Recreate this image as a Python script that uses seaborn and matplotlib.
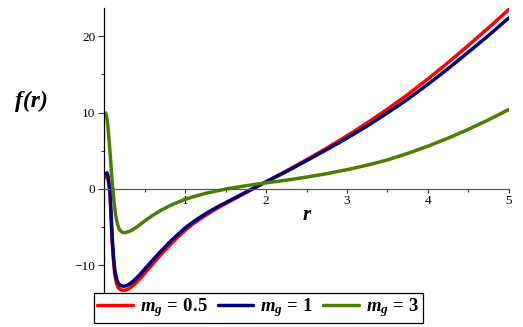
import matplotlib
matplotlib.use("Agg")
import matplotlib.pyplot as plt
import matplotlib.ticker as ticker
import seaborn as sns

# Data
r_red = [0.01, 0.035, 0.05, 0.07, 0.085, 0.1, 0.115, 0.13, 0.15, 0.17, 0.2, 0.24,
         0.28, 0.32, 0.36, 0.4, 0.45, 0.5, 0.6, 0.7, 0.8, 0.9, 1.0, 1.1, 1.2, 1.3,
         1.4, 1.5, 1.6, 1.8, 2.0, 2.25, 2.5, 2.75, 3.0, 3.25, 3.5, 3.75, 4.0, 4.25,
         4.5, 4.75, 5.0]
f_red = [1.5, 1.6, 1.0, -0.6, -4.0, -7.3, -9.6, -11.2, -12.3, -12.9, -13.2, -13.3,
         -13.2, -12.95, -12.6, -12.2, -11.65, -11.05, -9.8, -8.6, -7.45, -6.4, -5.4, -4.55, -3.82, -3.14,
         -2.5, -1.92, -1.35, -0.2, 0.95, 2.35, 3.82, 5.35, 6.95, 8.65, 10.45, 12.35, 14.4, 16.55,
         18.8, 21.1, 23.5]

r_navy = r_red
f_navy = [1.95, 2.1, 1.5, -0.1, -3.5, -6.8, -9.0, -10.6, -11.7, -12.3, -12.65, -12.75,
          -12.65, -12.4, -12.05, -11.65, -11.1, -10.5, -9.3, -8.15, -7.05, -6.05, -5.1, -4.3, -3.6, -2.95,
          -2.35, -1.8, -1.25, -0.15, 0.92, 2.27, 3.7, 5.15, 6.65, 8.25, 9.95, 11.75, 13.7, 15.75,
          17.9, 20.1, 22.4]

r_green = [0.005, 0.015, 0.025, 0.035, 0.045, 0.06, 0.075, 0.09, 0.105, 0.12, 0.14, 0.16,
           0.18, 0.2, 0.23, 0.26, 0.3, 0.35, 0.4, 0.5, 0.6, 0.7, 0.8, 0.9, 1.0, 1.1,
           1.25, 1.5, 1.75, 2.0, 2.25, 2.5, 2.75, 3.0, 3.25, 3.5, 3.75, 4.0, 4.25, 4.5,
           4.75, 5.0]
f_green = [10.0, 9.95, 9.7, 9.1, 8.1, 6.3, 4.2, 2.0, 0.0, -1.7, -3.4, -4.5,
           -5.15, -5.5, -5.7, -5.72, -5.6, -5.35, -5.0, -4.2, -3.45, -2.8, -2.25, -1.78, -1.37, -1.02,
           -0.58, -0.02, 0.42, 0.8, 1.15, 1.55, 2.0, 2.52, 3.12, 3.8, 4.65, 5.6, 6.65, 7.8,
           9.05, 10.4]

series = [
    (r_red, f_red, "#ff0000", r"$m_g\,=\,0.5$"),
    (r_navy, f_navy, "#000080", r"$m_g\,=\,1$"),
    (r_green, f_green, "#4f7d00", r"$m_g\,=\,3$"),
]

# Theme
sns.set_theme(style="white")
plt.rcParams["font.family"] = ["Liberation Serif", "DejaVu Serif"]
plt.rcParams["text.color"] = "black"
plt.rcParams["mathtext.fontset"] = "custom"
plt.rcParams["mathtext.it"] = "Liberation Serif:italic:bold"
plt.rcParams["mathtext.rm"] = "Liberation Serif:bold"
plt.rcParams["mathtext.bf"] = "Liberation Serif:bold"

fig = plt.figure(figsize=(5.23, 3.27), dpi=100)
ax = fig.add_axes([0.1994, 0.107, 0.7733, 0.8685])

for rr, ff, col, lab in series:
    sns.lineplot(x=rr, y=ff, color=col, linewidth=2.5, label=lab, ax=ax, sort=False)

ax.set_xlim(0, 5)
ax.set_ylim(-13.5, 23.7)

# Axes through the origin
for s in ["top", "right"]:
    ax.spines[s].set_visible(False)
ax.spines["left"].set_position(("data", 0))
ax.spines["bottom"].set_position(("data", 0))
ax.spines["left"].set_color("black")
ax.spines["bottom"].set_color("0.35")
ax.spines["left"].set_linewidth(0.9)
ax.spines["bottom"].set_linewidth(0.9)

ax.xaxis.set_major_locator(ticker.FixedLocator([1, 2, 3, 4, 5]))
ax.xaxis.set_minor_locator(ticker.FixedLocator([0.5, 1.5, 2.5, 3.5, 4.5]))
ax.yaxis.set_major_locator(ticker.FixedLocator([-10, 0, 10, 20]))
ax.yaxis.set_minor_locator(ticker.FixedLocator([-5, 5, 15]))
ax.tick_params(axis="x", which="major", direction="out", length=3, width=0.8,
               labelsize=9.5, pad=1.5, color="0.2", labelcolor="black")
ax.tick_params(axis="x", which="minor", direction="out", length=2, width=0.8, color="0.2")
ax.tick_params(axis="y", which="major", direction="out", length=4.5, width=0.8,
               labelsize=9.5, pad=2, color="0.2", labelcolor="black")
ax.tick_params(axis="y", which="minor", direction="out", length=2.5, width=0.8, color="0.2")
ax.tick_params(bottom=True, left=True, which="both")

ax.set_xlabel("")
ax.set_ylabel("")
fig.text(0.06, 0.69, "f(r)", fontsize=17, fontweight="bold", fontstyle="italic",
         color="black", ha="center", va="center")
ax.text(2.5, -3.4, "r", fontsize=15, fontweight="bold", fontstyle="italic",
        color="black", ha="center", va="center")

handles, labels = ax.get_legend_handles_labels()
ax.get_legend().remove()
leg = fig.legend(handles, labels, loc="center", bbox_to_anchor=(0.494, 0.058), ncol=3,
                 fontsize=13.5, frameon=True, fancybox=False, edgecolor="black",
                 framealpha=1, handlelength=1.9, handletextpad=0.35, columnspacing=0.55,
                 borderpad=0.2, borderaxespad=0)
leg.get_frame().set_linewidth(0.9)

fig.savefig("out.png", dpi=100)
